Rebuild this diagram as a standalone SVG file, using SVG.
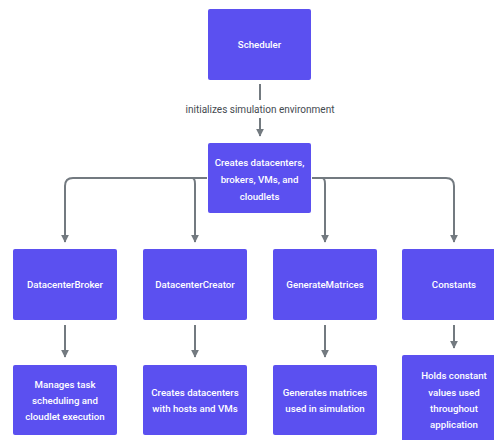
<svg xmlns="http://www.w3.org/2000/svg" width="494" height="440" viewBox="0 0 494 440">
<defs>
<style>
.box{fill:#5b50f0;rx:2px;}
.t{font-family:"Roboto","Liberation Sans",sans-serif;font-weight:500;font-size:9.7px;fill:#ffffff;text-anchor:middle;}
.lbl{font-family:"Roboto","Liberation Sans",sans-serif;font-size:10px;fill:#444a50;text-anchor:middle;}
.c{fill:none;stroke:#737a80;stroke-width:2;}
</style>
<marker id="ah" viewBox="0 0 10 10" refX="9" refY="5" markerWidth="4" markerHeight="4" orient="auto-start-reverse">
<path d="M0,0 L10,5 L0,10 z" fill="#737a80"/>
</marker>
</defs>
<rect width="494" height="440" fill="#ffffff"/>
<g id="connectors">
<path class="c" d="M260,84 V100"/>
<path class="c" d="M260,118 V136" marker-end="url(#ah)"/>
<path class="c" d="M207,178 H73 Q65,178 65,186 V242" marker-end="url(#ah)"/>
<path class="c" d="M207,178 H192 Q195,178 195,184 V242" marker-end="url(#ah)"/>
<path class="c" d="M312,178 H322 Q325,178 325,184 V242" marker-end="url(#ah)"/>
<path class="c" d="M312,178 H446 Q454,178 454,186 V242" marker-end="url(#ah)"/>
<path class="c" d="M65,325 V357" marker-end="url(#ah)"/>
<path class="c" d="M195,325 V357" marker-end="url(#ah)"/>
<path class="c" d="M325,325 V357" marker-end="url(#ah)"/>
<path class="c" d="M454,325 V348" marker-end="url(#ah)"/>
<text class="lbl" x="260" y="113">initializes simulation environment</text>
</g>
<g id="scheduler"><rect class="box" x="208" y="9" width="103" height="71"/><text class="t" x="259.5" y="48">Scheduler</text></g>
<g id="creates"><rect class="box" x="208" y="143" width="103" height="70"/><text class="t" x="259.5" y="166">Creates datacenters,</text><text class="t" x="259.5" y="183">brokers, VMs, and</text><text class="t" x="259.5" y="200">cloudlets</text></g>
<g id="broker"><rect class="box" x="13" y="249" width="104" height="71"/><text class="t" x="65" y="288">DatacenterBroker</text></g>
<g id="creator"><rect class="box" x="143" y="249" width="104" height="71"/><text class="t" x="195" y="288">DatacenterCreator</text></g>
<g id="matrices"><rect class="box" x="273" y="249" width="104" height="71"/><text class="t" x="325" y="288">GenerateMatrices</text></g>
<g id="constants"><rect class="box" x="402" y="249" width="104" height="71"/><text class="t" x="454" y="288">Constants</text></g>
<g id="broker-desc"><rect class="box" x="13" y="365" width="104" height="70"/><text class="t" x="65" y="388">Manages task</text><text class="t" x="65" y="404">scheduling and</text><text class="t" x="65" y="420">cloudlet execution</text></g>
<g id="creator-desc"><rect class="box" x="143" y="365" width="104" height="70"/><text class="t" x="195" y="396">Creates datacenters</text><text class="t" x="195" y="412">with hosts and VMs</text></g>
<g id="matrices-desc"><rect class="box" x="273" y="365" width="104" height="70"/><text class="t" x="325" y="396">Generates matrices</text><text class="t" x="325" y="412">used in simulation</text></g>
<g id="constants-desc"><rect class="box" x="402" y="355" width="104" height="90"/><text class="t" x="454" y="379">Holds constant</text><text class="t" x="454" y="396">values used</text><text class="t" x="454" y="412">throughout</text><text class="t" x="454" y="428">application</text></g>
</svg>
